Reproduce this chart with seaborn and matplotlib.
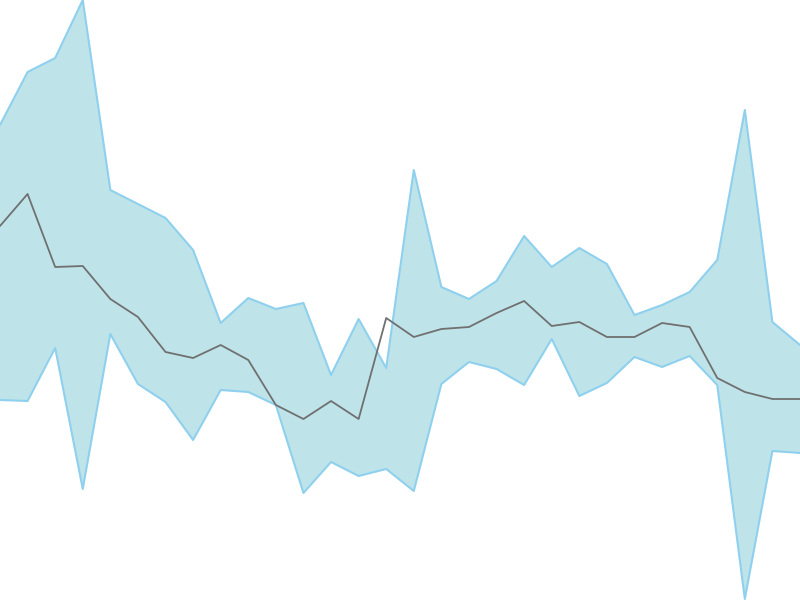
import matplotlib
matplotlib.use("Agg")
import matplotlib.pyplot as plt
import seaborn as sns
import pandas as pd

steps = list(range(30))
upper = [125, 72, 58, 0, 190, 204, 218, 250, 323, 298, 309, 303, 375, 319, 368,
         170, 287, 299, 281, 236, 267, 248, 264, 315, 305, 292, 260, 110, 322, 345]
middle = [226, 194, 267, 266, 299, 317, 352, 358, 345, 360, 405, 419, 401, 419, 318,
          337, 329, 327, 313, 301, 326, 322, 337, 337, 323, 327, 378, 392, 399, 399]
lower = [400, 401, 348, 489, 334, 384, 402, 440, 390, 392, 405, 493, 462, 476, 469,
         491, 384, 362, 369, 385, 339, 396, 383, 357, 367, 356, 385, 599, 451, 453]

# convert pixel reads to values (higher = up)
H = 600
df = pd.DataFrame({
    "step": steps,
    "upper": [H - v for v in upper],
    "middle": [H - v for v in middle],
    "lower": [H - v for v in lower],
})

sns.set_style("white")
fig = plt.figure(figsize=(8, 6), dpi=100)
ax = fig.add_axes([0, 0, 1, 1])
ax.fill_between(df["step"], df["lower"], df["upper"], color="#bee4ea", linewidth=0)
sns.lineplot(data=df, x="step", y="upper", ax=ax, color="#8fd0ee", linewidth=1.5)
sns.lineplot(data=df, x="step", y="lower", ax=ax, color="#8fd0ee", linewidth=1.5)
sns.lineplot(data=df, x="step", y="middle", ax=ax, color="#707070", linewidth=1.3)
ax.set_xlim(0, 29)
ax.set_ylim(0, H)
ax.axis("off")
fig.savefig("out.png", dpi=100)
